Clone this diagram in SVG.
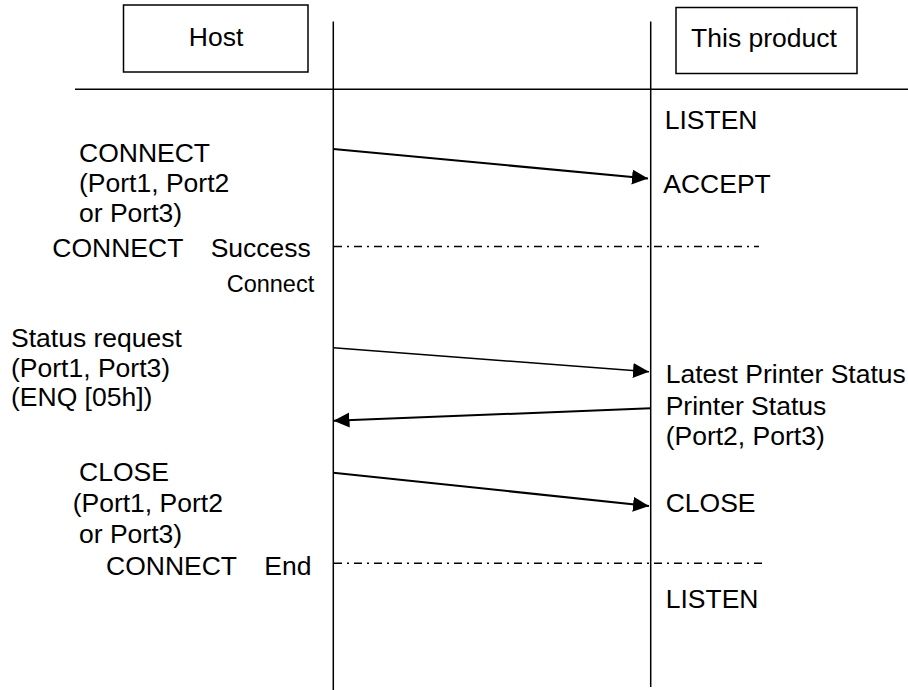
<svg xmlns="http://www.w3.org/2000/svg" width="908" height="690" viewBox="0 0 908 690">
<style>
  text { font-family: "Liberation Sans", Arial, sans-serif; font-size: 26.5px; fill: #000; }
  .small { font-size: 23.5px; }
  .box { fill: #fff; stroke: #000; stroke-width: 1.5; }
  .life { stroke: #000; stroke-width: 1.5; fill: none; }
  .msg { stroke: #000; fill: none; }
  .sep { stroke: #000; stroke-width: 1.4; stroke-dasharray: 8 5 2 5; fill: none; }
</style>
<defs>
  <marker id="ah" markerUnits="userSpaceOnUse" markerWidth="17" markerHeight="16" refX="16" refY="7.5" orient="auto">
    <path d="M0,0 L16,7.5 L0,15 z" fill="#000"/>
  </marker>
</defs>
<rect width="908" height="690" fill="#fff"/>

<g id="host">
  <rect class="box" x="123.5" y="5" width="184.5" height="67"/>
  <text x="216" y="46" text-anchor="middle">Host</text>
</g>
<g id="product">
  <rect class="box" x="676" y="7.5" width="181" height="66"/>
  <text x="764" y="47" text-anchor="middle">This product</text>
</g>

<g id="frame">
  <line class="life" x1="75" y1="89.3" x2="908" y2="89.3"/>
  <line class="life" x1="333.3" y1="21.5" x2="333.3" y2="690"/>
  <line class="life" x1="650.7" y1="21.5" x2="650.7" y2="687"/>
</g>

<g id="connectors">
  <line class="msg" stroke-width="2" x1="333.3" y1="149" x2="648" y2="178.5" marker-end="url(#ah)"/>
  <line class="sep" x1="334" y1="246.5" x2="759" y2="246.5"/>
  <line class="msg" stroke-width="1.5" x1="333.3" y1="347.7" x2="649" y2="371.7" marker-end="url(#ah)"/>
  <line class="msg" stroke-width="2" x1="650.7" y1="408.3" x2="333.5" y2="420.7" marker-end="url(#ah)"/>
  <line class="msg" stroke-width="2" x1="333.3" y1="472.7" x2="649" y2="506" marker-end="url(#ah)"/>
  <line class="sep" x1="334" y1="563.3" x2="766" y2="563.3"/>
</g>

<g id="host-labels">
  <text x="79" y="161.5">CONNECT</text>
  <text x="79" y="191.5">(Port1, Port2</text>
  <text x="79" y="221.5">or Port3)</text>
  <text x="52.3" y="256.5">CONNECT</text>
  <text x="210.7" y="256.5">Success</text>
  <text class="small" x="226.7" y="291.5">Connect</text>
  <text x="11" y="346.5">Status request</text>
  <text x="11" y="376.5">(Port1, Port3)</text>
  <text x="11" y="406">(ENQ [05h])</text>
  <text x="79" y="480.5">CLOSE</text>
  <text x="72.7" y="511.5">(Port1, Port2</text>
  <text x="79" y="542.5">or Port3)</text>
  <text x="106" y="575">CONNECT</text>
  <text x="264.3" y="575">End</text>
</g>

<g id="product-labels">
  <text x="664.7" y="129">LISTEN</text>
  <text x="663.3" y="193.3">ACCEPT</text>
  <text x="665.7" y="383.3">Latest Printer Status</text>
  <text x="665.7" y="414.5">Printer Status</text>
  <text x="665.7" y="444.5">(Port2, Port3)</text>
  <text x="665.7" y="511.7">CLOSE</text>
  <text x="665.7" y="607.7">LISTEN</text>
</g>
</svg>
